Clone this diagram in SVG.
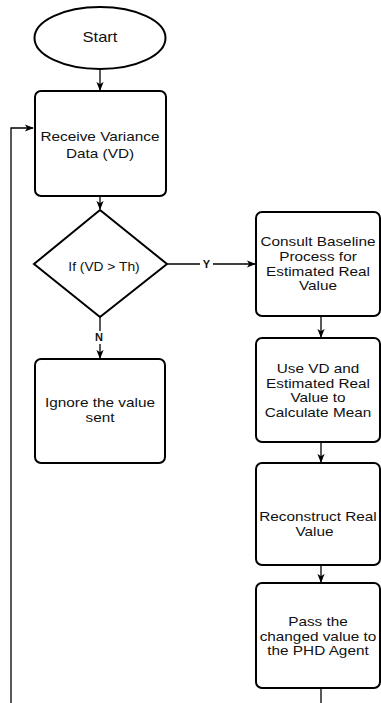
<svg xmlns="http://www.w3.org/2000/svg" width="381" height="703" viewBox="0 0 381 703">
<style>
.shape{fill:#fff;stroke:#000;stroke-width:2}
.t{font-family:"Liberation Sans",Arial,sans-serif;font-size:13px;fill:#111;text-anchor:middle}
.lbl{font-family:"Liberation Sans",Arial,sans-serif;font-size:11px;font-weight:bold;fill:#111;text-anchor:middle}
.c{fill:none;stroke:#000;stroke-width:1.3}
</style>
<defs>
<marker id="arr" viewBox="0 0 10 8" refX="9" refY="4" markerWidth="9" markerHeight="7.5" markerUnits="userSpaceOnUse" orient="auto">
<path d="M0,0 L10,4 L0,8 L2.5,4 z" fill="#000"/>
</marker>
</defs>
<rect width="381" height="703" fill="#fff"/>

<g id="connectors">
<line class="c" x1="100" y1="69" x2="100" y2="90" marker-end="url(#arr)"/>
<line class="c" x1="100" y1="196" x2="100" y2="209" marker-end="url(#arr)"/>
<line class="c" x1="167" y1="264" x2="255" y2="264" marker-end="url(#arr)"/>
<rect x="200" y="257" width="13" height="14" fill="#fff"/>
<text class="lbl" x="206.5" y="268">Y</text>
<line class="c" x1="100" y1="317" x2="100" y2="358" marker-end="url(#arr)"/>
<rect x="93" y="331" width="14" height="13" fill="#fff"/>
<text class="lbl" x="99" y="341">N</text>
<line class="c" x1="321" y1="316" x2="321" y2="337" marker-end="url(#arr)"/>
<line class="c" x1="321" y1="442" x2="321" y2="462" marker-end="url(#arr)"/>
<line class="c" x1="321" y1="565" x2="321" y2="582" marker-end="url(#arr)"/>
<line class="c" x1="321" y1="688" x2="321" y2="703"/>
<polyline class="c" points="11,703 11,128 33,128" stroke="#333" marker-end="url(#arr)"/>
</g>

<g id="start">
<ellipse class="shape" cx="100" cy="38" rx="65.5" ry="31"/>
<g transform="translate(100,0) scale(1.18,1)"><text class="t" x="0" y="42.5" style="font-size:14px">Start</text></g>
</g>

<g id="receive">
<rect class="shape" x="35" y="91" width="131" height="105" rx="6"/>
<g transform="translate(100,0) scale(1.18,1)">
<text class="t" x="0" y="141.5">Receive Variance</text>
<text class="t" x="0" y="158">Data (VD)</text>
</g>
</g>

<g id="decision">
<polygon class="shape" points="100,210 167,264 100,317 34,264"/>
<g transform="translate(104,0) scale(1.15,1)"><text class="t" x="0" y="271" style="font-size:12px">If (VD &gt; Th)</text></g>
</g>

<g id="ignore">
<rect class="shape" x="35" y="359" width="130" height="104" rx="6"/>
<g transform="translate(100,0) scale(1.18,1)">
<text class="t" x="0" y="407.5">Ignore the value</text>
<text class="t" x="0" y="422.5">sent</text>
</g>
</g>

<g id="consult">
<rect class="shape" x="256" y="212" width="124" height="104" rx="6"/>
<g transform="translate(318,0) scale(1.18,1)">
<text class="t" x="0" y="246.5">Consult Baseline</text>
<text class="t" x="0" y="261.5">Process for</text>
<text class="t" x="0" y="276.5">Estimated Real</text>
<text class="t" x="0" y="290.5">Value</text>
</g>
</g>

<g id="usevd">
<rect class="shape" x="256" y="338" width="124" height="104" rx="6"/>
<g transform="translate(318,0) scale(1.18,1)">
<text class="t" x="0" y="373.5">Use VD and</text>
<text class="t" x="0" y="388">Estimated Real</text>
<text class="t" x="0" y="402.5">Value to</text>
<text class="t" x="0" y="417">Calculate Mean</text>
</g>
</g>

<g id="reconstruct">
<rect class="shape" x="256" y="463" width="124" height="102" rx="6"/>
<g transform="translate(318,0) scale(1.18,1)">
<text class="t" x="0" y="521.5">Reconstruct Real</text>
<text class="t" x="-3" y="536.5">Value</text>
</g>
</g>

<g id="pass">
<rect class="shape" x="256" y="583" width="124" height="105" rx="6"/>
<g transform="translate(318,0) scale(1.18,1)">
<text class="t" x="0" y="626.5">Pass the</text>
<text class="t" x="0" y="641">changed value to</text>
<text class="t" x="0" y="655.5">the PHD Agent</text>
</g>
</g>
</svg>
